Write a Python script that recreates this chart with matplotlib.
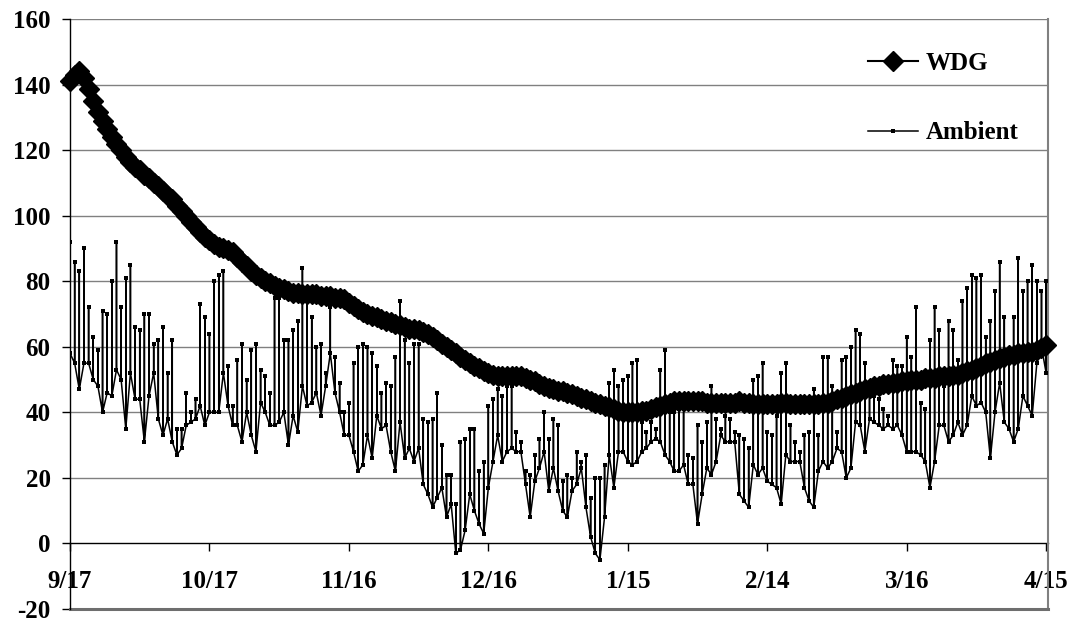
import numpy as np
import matplotlib
matplotlib.use("Agg")
import matplotlib.pyplot as plt
from matplotlib.lines import Line2D

plt.rcParams["axes.unicode_minus"] = False

# day index 0 = 9/17, one value per day up to 4/15
tick_days = [0, 30, 60, 90, 120, 150, 180, 210]
tick_labels = ["9/17", "10/17", "11/16", "12/16", "1/15", "2/14", "3/16", "4/15"]

wdg = [
    141, 143, 144, 142, 138.5, 135, 131.5, 129, 126.5, 124,
    122, 120, 118, 116.5, 115, 114, 112.5, 111.5, 110, 109,
    107.5, 106, 105, 103, 101.5, 100, 98, 96.5, 95, 93.5,
    92.5, 91.5, 90.5, 90, 89.5, 89, 87.5, 86, 84.5, 83,
    82, 81, 80, 79.5, 78.5, 78, 77.5, 77, 76.5, 76.5,
    76, 76, 76, 76, 75.5, 75.5, 75.5, 75, 75, 74.5,
    73.5, 72.5, 71.5, 70.5, 70, 69.5, 69, 68.5, 68, 67.5,
    67, 66.5, 66, 65.5, 65.5, 65, 64.5, 64, 63, 62,
    61, 60, 59, 58, 57, 56, 55, 54, 53.5, 52.5,
    52, 51.5, 51, 51, 51, 51, 51, 51, 50.5, 50,
    49.5, 48.5, 48, 47.5, 47, 46.5, 46.5, 46, 45.5, 45,
    44.5, 44, 43.5, 43, 42.5, 42, 41.5, 41, 40.5, 40,
    40, 40, 40, 40.5, 40.5, 41, 41.5, 42, 42.5, 43,
    43.5, 43.5, 43.5, 43.5, 43.5, 43.5, 43.5, 43, 43, 43,
    43, 43, 43, 43, 43.5, 43, 43, 42.5, 42.5, 42.5,
    42.5, 42.5, 42.5, 43, 43, 42.5, 42.5, 42.5, 42.5, 42.5,
    42.5, 42.5, 43, 43, 43.5, 44, 44.5, 45, 45.5, 46,
    46.5, 47, 47.5, 48, 48, 48.5, 48.5, 49, 49, 49.5,
    49.5, 50, 50, 50, 50.5, 50.5, 50.5, 51, 51, 51,
    51.5, 51.5, 52, 52.5, 53, 53.5, 54, 55, 55.5, 56,
    56.5, 57, 57.5, 57.5, 58, 58, 58.5, 58.5, 59, 59.5,
    60.5,
]

amb_hi = [
    92, 86, 83, 90, 72, 63, 59, 71, 70, 80,
    92, 72, 81, 85, 66, 65, 70, 70, 61, 62,
    66, 52, 62, 35, 35, 46, 40, 44, 73, 69,
    64, 80, 82, 83, 54, 42, 56, 61, 50, 59,
    61, 53, 51, 46, 75, 75, 62, 62, 65, 68,
    84, 75, 69, 60, 61, 52, 72, 57, 49, 40,
    43, 55, 60, 61, 60, 58, 54, 46, 49, 48,
    57, 74, 62, 55, 61, 61, 38, 37, 38, 46,
    30, 21, 21, 12, 31, 32, 35, 35, 22, 25,
    42, 44, 47, 45, 48, 48, 34, 31, 22, 21,
    27, 32, 40, 32, 38, 36, 19, 21, 20, 28,
    25, 27, 14, 20, 20, 24, 49, 53, 48, 50,
    51, 55, 56, 37, 34, 37, 35, 53, 59, 40,
    40, 41, 41, 27, 26, 36, 31, 37, 48, 38,
    35, 39, 38, 34, 33, 32, 29, 50, 51, 55,
    34, 33, 39, 52, 55, 36, 31, 28, 33, 34,
    47, 33, 57, 57, 48, 34, 56, 57, 60, 65,
    64, 55, 47, 45, 44, 41, 39, 56, 54, 54,
    63, 57, 72, 43, 41, 62, 72, 65, 48, 68,
    65, 56, 74, 78, 82, 81, 82, 63, 68, 77,
    86, 69, 59, 69, 87, 77, 80, 85, 80, 77,
    80,
]

amb_lo = [
    58, 55, 47, 55, 55, 50, 48, 40, 46, 45,
    53, 50, 35, 52, 44, 44, 31, 45, 52, 38,
    33, 38, 31, 27, 29, 36, 37, 38, 42, 36,
    40, 40, 40, 52, 42, 36, 36, 31, 40, 33,
    28, 43, 40, 36, 36, 37, 40, 30, 39, 34,
    48, 42, 43, 46, 39, 48, 58, 46, 40, 33,
    33, 28, 22, 24, 33, 26, 39, 35, 36, 28,
    22, 37, 26, 29, 25, 29, 18, 15, 11, 14,
    17, 8, 12, -3, -2, 4, 15, 10, 6, 3,
    17, 25, 33, 25, 28, 29, 28, 28, 18, 8,
    19, 23, 28, 16, 23, 16, 10, 8, 16, 18,
    23, 11, 2, -3, -5, 8, 27, 17, 28, 28,
    25, 24, 25, 28, 29, 31, 32, 31, 27, 25,
    22, 22, 24, 18, 18, 6, 15, 23, 21, 25,
    33, 31, 31, 31, 15, 13, 11, 24, 21, 23,
    19, 18, 17, 12, 27, 25, 25, 25, 17, 13,
    11, 22, 25, 23, 25, 29, 28, 20, 23, 37,
    36, 28, 38, 37, 36, 35, 36, 35, 36, 33,
    28, 28, 28, 27, 25, 17, 25, 36, 36, 31,
    33, 37, 33, 36, 45, 42, 43, 40, 26, 40,
    49, 37, 35, 31, 35, 45, 42, 39, 55, 60,
    52,
]

days = np.arange(len(wdg))
amb_days = np.arange(len(amb_hi))

# Excel date axis puts every reading of a day on the same x,
# so each day shows up as a vertical stroke from low to high
amb_x = np.repeat(amb_days, 3)
amb_y = np.column_stack([amb_lo, amb_hi, amb_lo]).ravel()

serif = "Liberation Serif"
grid_col = "#808080"
y_min, y_max = -20, 160

fig = plt.figure(figsize=(10.78, 6.25), dpi=100)
ax = fig.add_axes([70 / 1078, 16 / 625, 978 / 1078, 590 / 625])

ax.plot(amb_x, amb_y, color="black", lw=1.1, marker="s", ms=2.4,
        markeredgewidth=0, zorder=3)
ax.plot(days, wdg, color="black", lw=1.5, marker="D", ms=10, zorder=4,
        clip_on=False)

ax.set_xlim(0, 210.4)
ax.set_ylim(y_min, y_max)
ax.set_yticks(np.arange(y_min, y_max + 1, 20))
for v in range(20, y_max + 1, 20):
    ax.axhline(v, color=grid_col, lw=1, zorder=1)

# plot-area frame: grey right and bottom edges, black value axis
ax.spines["top"].set_visible(False)
ax.spines["right"].set_color(grid_col)
ax.spines["right"].set_linewidth(1.5)
ax.spines["bottom"].set_color("#6e6e6e")
ax.spines["bottom"].set_linewidth(2.2)
ax.spines["left"].set_color("black")
ax.spines["left"].set_linewidth(1)
ax.spines["left"].set_zorder(5)
ax.tick_params(axis="x", bottom=False, labelbottom=False)
ax.tick_params(axis="y", direction="out", length=6, width=1, pad=8)

# category axis crosses at 0
sec = ax.secondary_xaxis((0 - y_min) / (y_max - y_min))
sec.set_xticks(tick_days)
sec.set_xticklabels(tick_labels)
sec.spines["bottom"].set_color("black")
sec.spines["bottom"].set_linewidth(1)
sec.tick_params(axis="x", direction="out", length=6, width=1, pad=13)

for lab in sec.get_xticklabels() + ax.get_yticklabels():
    lab.set_fontfamily(serif)
    lab.set_fontweight("bold")
    lab.set_fontsize(18)

handles = [
    Line2D([], [], color="black", lw=1.5, marker="D", ms=10),
    Line2D([], [], color="black", lw=1.1, marker="s", ms=2.4, markeredgewidth=0),
]
leg = fig.legend(handles, ["WDG", "Ambient"], loc="upper left",
                 bbox_to_anchor=(868 / 1078, 1 - 52 / 625), frameon=False,
                 borderpad=0, borderaxespad=0, handlelength=2.0,
                 handletextpad=0.3, labelspacing=1.85,
                 prop={"family": serif, "weight": "bold", "size": 18})

fig.savefig("out.png", dpi=100)
